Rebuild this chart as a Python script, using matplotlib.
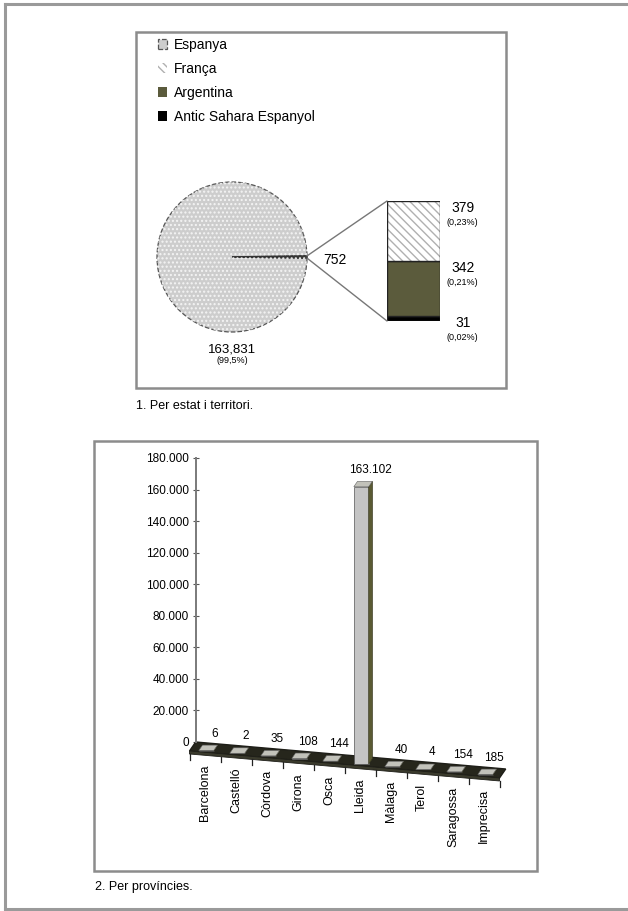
"""Pie-of-bar per estat i barres 3D per províncies."""

import matplotlib
matplotlib.use("Agg")
import numpy as np
import matplotlib.pyplot as plt
from matplotlib.patches import Rectangle, Polygon, ConnectionPatch
from matplotlib.lines import Line2D
from matplotlib.ticker import FuncFormatter

plt.rcParams['font.family'] = ['Liberation Sans', 'DejaVu Sans']

W, H = 628, 911

# --- dades ---
pie_labels = ["Espanya", "França", "Argentina", "Antic Sahara Espanyol"]
pie_values = [163831, 379, 342, 31]
pie_pct = ["(99,5%)", "(0,23%)", "(0,21%)", "(0,02%)"]

provinces = ["Barcelona", "Castelló", "Còrdova", "Girona", "Osca",
             "Lleida", "Màlaga", "Terol", "Saragossa", "Imprecisa"]
province_values = [6, 2, 35, 108, 144, 163102, 40, 4, 154, 185]
value_ticks = list(range(0, 180001, 20000))


def fmt(v, sep):
    return f"{int(v):,}".replace(",", sep)


def px_axes(fig, x0, y0, x1, y1):
    ax = fig.add_axes([x0 / W, 1 - y1 / H, (x1 - x0) / W, (y1 - y0) / H])
    ax.patch.set_visible(False)
    return ax


fig = plt.figure(figsize=(W / 100, H / 100), dpi=100)

# page frame and chart boxes
frame = dict(color="#9a9a9a", linewidth=2.2, transform=fig.transFigure)
fig.add_artist(Line2D([5 / W, 5 / W], [1 - 4 / H, 1 - 909 / H], **frame))
fig.add_artist(Line2D([5 / W, 1], [1 - 4 / H, 1 - 4 / H], **frame))
fig.add_artist(Line2D([5 / W, 1], [1 - 909 / H, 1 - 909 / H], **frame))
for x0, y0, x1, y1 in [(136, 32, 506, 388), (94, 441, 537, 871)]:
    fig.add_artist(Rectangle((x0 / W, 1 - y1 / H), (x1 - x0) / W, (y1 - y0) / H,
                             transform=fig.transFigure, fill=False,
                             edgecolor="#8c8c8c", linewidth=1.8))

# --- 1. pie of bar ---
total = sum(pie_values)
rest = sum(pie_values[1:])
small = 360 * rest / total

ax_pie = px_axes(fig, 152, 177, 312, 337)
wedges, _ = ax_pie.pie([pie_values[0], rest], startangle=small / 2,
                       colors=["#cdcdcd", "#5a5a48"],
                       wedgeprops=dict(edgecolor="#555555", linewidth=0.9,
                                       linestyle="--"))
dots, _ = ax_pie.pie([pie_values[0], rest], startangle=small / 2,
                     colors=["none", "none"],
                     wedgeprops=dict(edgecolor="#f4f4f4", linewidth=0, hatch="...."))
wedges[1].set_linestyle("-")
wedges[1].set_edgecolor("#333333")
wedges[1].set_linewidth(1.2)
ax_pie.set_xlim(-80 / 75, 80 / 75)
ax_pie.set_ylim(-80 / 75, 80 / 75)
ax_pie.set_aspect("equal")
ax_pie.axis("off")
ax_pie.text(1.37, -0.04, fmt(rest, "."), ha="center", va="center", fontsize=10)
ax_pie.text(0, -1.23, fmt(pie_values[0], ","), ha="center", va="center", fontsize=9.5)
ax_pie.text(0, -1.38, pie_pct[0], ha="center", va="center", fontsize=6.5)

ax_stack = px_axes(fig, 387, 201, 440, 321)
styles = {
    "França": dict(color="white", hatch="\\\\\\\\"),
    "Argentina": dict(color="#5b5b3c"),
    "Antic Sahara Espanyol": dict(color="black"),
}
stack_bars = {}
bottom = 0
for name, v, pct in reversed(list(zip(pie_labels[1:], pie_values[1:], pie_pct[1:]))):
    st = styles[name]
    b = ax_stack.bar(0, v, bottom=bottom, width=1, color=st["color"],
                     edgecolor="#b0b0b0", linewidth=0, hatch=st.get("hatch"))
    ax_stack.bar(0, v, bottom=bottom, width=1, color="none",
                 edgecolor="#222222", linewidth=1)
    stack_bars[name] = b[0]
    top = bottom + v
    ax_stack.annotate(str(v), (0.93, top), xytext=(0, 0), textcoords="offset points",
                      ha="center", va="top", fontsize=10, annotation_clip=False)
    ax_stack.annotate(pct, (0.93, top), xytext=(0, -12), textcoords="offset points",
                      ha="center", va="top", fontsize=6.5, annotation_clip=False)
    bottom = top
ax_stack.set_xlim(-0.5, 0.5)
ax_stack.set_ylim(0, rest)
ax_stack.axis("off")

a = np.radians(small / 2)
for ang, yb in [(a, rest), (-a, 0)]:
    con = ConnectionPatch(xyA=(np.cos(ang), np.sin(ang)), coordsA=ax_pie.transData,
                          xyB=(-0.5, yb), coordsB=ax_stack.transData,
                          color="#777777", linewidth=1)
    fig.add_artist(con)

fig.legend([wedges[0], stack_bars["França"], stack_bars["Argentina"],
            stack_bars["Antic Sahara Espanyol"]], pie_labels,
           loc="upper left", bbox_to_anchor=(152 / W, 1 - 32 / H),
           frameon=False, fontsize=10, handlelength=0.7, handleheight=0.7,
           handletextpad=0.5, labelspacing=0.72, borderaxespad=0)
fig.text(136 / W, 1 - 406 / H, "1. Per estat i territori.", fontsize=9, va="center")

# --- 2. barres 3D ---
ax = px_axes(fig, 112, 442.2, 530.5, 789.33)
ax.set_xlim(-3, 10.5)
ax.set_ylim(-30000, 190000)

dx, dy = 0.2, 5700           # depth vector
drop = 1711                  # floor slope per category


def floor_at(c):
    return -5700 - drop * (c + 0.5)


n = len(provinces)
floor = Polygon([(-0.5, floor_at(-0.5)), (n - 0.5, floor_at(n - 0.5)),
                 (n - 0.5 + dx, floor_at(n - 0.5) + dy), (-0.5 + dx, floor_at(-0.5) + dy)],
                facecolor="#26261c", edgecolor="#1e1e18", linewidth=1.0, zorder=2)
ax.add_patch(floor)
slab = Polygon([(-0.5, floor_at(-0.5)), (n - 0.5, floor_at(n - 0.5)),
                (n - 0.5, floor_at(n - 0.5) - 1900), (-0.5, floor_at(-0.5) - 1900)],
               facecolor="#3a3a2c", edgecolor="#1e1e18", linewidth=0.6, zorder=2)
ax.add_patch(slab)
for b in np.arange(-0.5, n, 1.0):
    fa = floor_at(b) - 1900
    ax.plot([b, b], [fa, fa - 3500], color="#222222", linewidth=0.9, zorder=2)

bdx, bdy = 0.6 * dx, 0.6 * dy
for c, v in enumerate(province_values):
    bx = c + 0.2 * dx
    base = floor_at(c) + 0.2 * dy
    top = base + v * (180000 - base) / 180000
    ax.add_patch(Rectangle((bx - 0.24, base), 0.48, top - base, facecolor="#c4c4c4",
                           edgecolor="#555555", linewidth=0.5, zorder=3))
    ax.add_patch(Polygon([(bx + 0.24, base), (bx + 0.24, top),
                          (bx + 0.24 + bdx, top + bdy), (bx + 0.24 + bdx, base + bdy)],
                         facecolor="#5a5a33", edgecolor="#3a3a22", linewidth=0.5, zorder=3))
    ax.add_patch(Polygon([(bx - 0.24, top), (bx + 0.24, top),
                          (bx + 0.24 + bdx, top + bdy), (bx - 0.24 + bdx, top + bdy)],
                         facecolor="#c2c2ba", edgecolor="#666666", linewidth=0.4, zorder=4))
    ax.annotate(fmt(v, "."), (bx + bdx / 2, top + bdy), xytext=(5, 4),
                textcoords="offset points", ha="center", va="bottom", fontsize=8.5)
    ax.annotate(provinces[c], (c, floor_at(c)), xytext=(0, -9),
                textcoords="offset points", rotation=90, ha="center", va="top",
                fontsize=9)

for side in ["top", "right", "bottom"]:
    ax.spines[side].set_visible(False)
ax.spines["left"].set_position(("data", -0.5 + dx))
ax.spines["left"].set_bounds(0, 180000)
ax.spines["left"].set_color("#7a7a7a")
ax.spines["left"].set_linewidth(1.4)
ax.set_yticks(value_ticks)
ax.yaxis.set_major_formatter(FuncFormatter(lambda v, p: fmt(v, ".")))
ax.tick_params(axis="y", labelsize=8.5, length=4, width=0.8, color="#555555",
               direction="inout", pad=3)
ax.set_xticks([])

fig.text(95 / W, 1 - 887 / H, "2. Per províncies.", fontsize=9, va="center")

fig.savefig("out.png", dpi=100)
